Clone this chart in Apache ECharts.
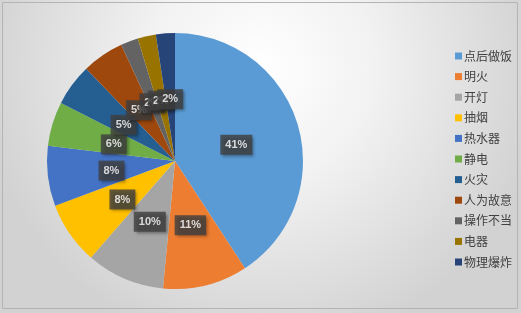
<!DOCTYPE html>
<html><head><meta charset="utf-8">
<script src="https://cdn.jsdelivr.net/npm/echarts@6/dist/echarts.min.js"></script>
<style>html,body{margin:0;padding:0;background:#fff}#c{width:521px;height:313px}</style>
</head><body><div id="c"></div>
<script>
const categories = ['点后做饭','明火','开灯','抽烟','热水器','静电','火灾','人为故意','操作不当','电器','物理爆炸'];
const values = [40.8, 10.7, 9.9, 7.9, 7.6, 5.6, 5.3, 5.3, 2.2, 2.3, 2.4];
const colors = ['#5B9BD5','#ED7D31','#A5A5A5','#FFC000','#4472C4','#70AD47','#255E91','#9E480E','#636363','#997300','#264478'];

const total = values.reduce((a, b) => a + b, 0);
let acc = 0;
const labelPoints = values.map(v => {
  const mid = acc + v / 2;
  acc += v;
  return {value: [0.5, mid], pct: Math.round(v / total * 100)};
});

const CX = 175, CY = 161, R = 128;
const chart = echarts.init(document.getElementById('c'));
chart.setOption({
  animation: false,
  backgroundColor: {
    type: 'radial', x: 0.5, y: 0.22, r: 0.9,
    colorStops: [{offset: 0, color: '#ffffff'}, {offset: 0.4, color: '#f2f2f2'}, {offset: 1, color: '#d2d2d2'}]
  },
  graphic: [{
    type: 'rect', shape: {x: 2.5, y: 2.5, width: 515, height: 306},
    style: {fill: 'none', stroke: '#b4b4b4', lineWidth: 1}, silent: true
  }],
  color: colors,
  legend: {
    orient: 'vertical', left: 450, top: 45,
    itemWidth: 7, itemHeight: 7, itemGap: 8.6,
    icon: 'rect',
    textStyle: {fontFamily: 'Noto Sans CJK SC', fontSize: 12, color: '#404040', padding: [0, 0, 0, -3]},
    data: categories
  },
  polar: {center: [CX, CY], radius: R},
  angleAxis: {type: 'value', min: 0, max: total, startAngle: 90, clockwise: true, show: false},
  radiusAxis: {type: 'value', min: 0, max: 1, show: false},
  series: [{
    type: 'pie',
    center: [CX, CY], radius: [0, R],
    startAngle: 90, clockwise: true,
    data: categories.map((n, i) => ({name: n, value: values[i]})),
    itemStyle: {borderWidth: 0},
    label: {show: false},
    labelLine: {show: false},
    emphasis: {disabled: true}
  }, {
    type: 'scatter',
    coordinateSystem: 'polar',
    symbolSize: 0,
    silent: true,
    z: 5,
    data: labelPoints,
    label: {
      show: true, position: 'inside', offset: [0, 2],
      formatter: p => p.data.pct + '%',
      color: '#ffffff', fontWeight: 'bold', fontSize: 11, lineHeight: 13,
      fontFamily: 'Liberation Sans',
      backgroundColor: '#404040', padding: [4, 5, 3, 5],
      shadowColor: 'rgba(0,0,0,0.45)', shadowBlur: 3, shadowOffsetX: 2, shadowOffsetY: 2
    },
    emphasis: {disabled: true}
  }]
});
</script></body></html>
